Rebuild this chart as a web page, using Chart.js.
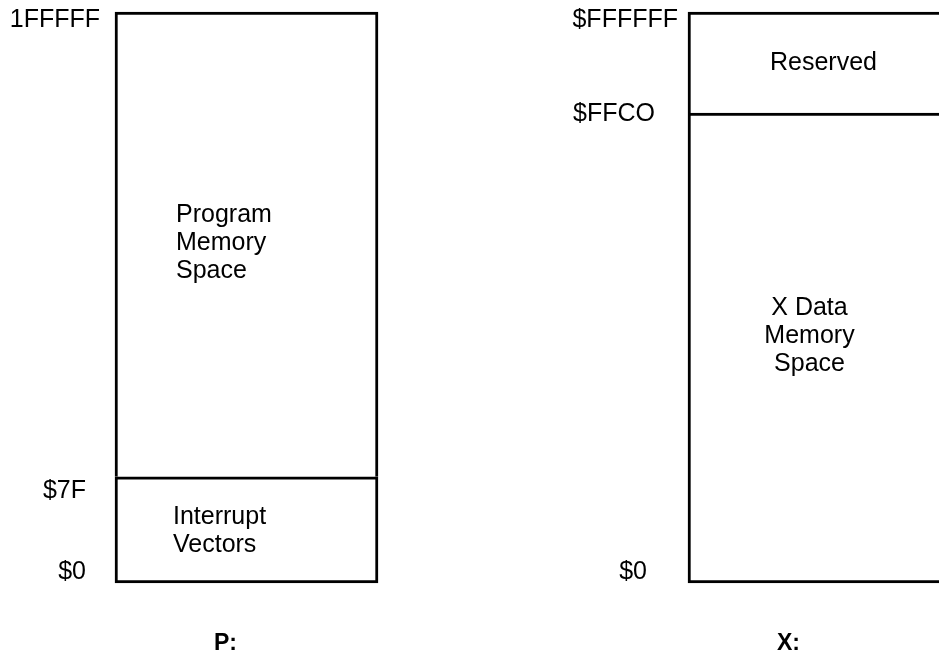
<!DOCTYPE html>
<html>
<head>
<meta charset="utf-8">
<script src="https://cdn.jsdelivr.net/npm/chart.js@4/dist/chart.umd.min.js"></script>
<style>
  html, body { margin: 0; padding: 0; background: #fff; overflow: hidden; }
  #wrap { width: 939px; height: 658px; }
</style>
</head>
<body>
<div id="wrap"><canvas id="memChart" width="939" height="658"></canvas></div>
<script>
// memory spaces (one column each)
var categories = ['P:', 'X:'];
// height of the split line in diagram units (bottom = 0, top = 100)
var splitLevel = [18.6, 82.3];
var lowerRegion = ['Interrupt\nVectors', 'X Data\nMemory\nSpace'];
var upperRegion = ['Program\nMemory\nSpace', 'Reserved'];
// address tick labels
var topAddr = ['1FFFFF', '$FFFFFF'];
var splitAddr = ['$7F', '$FFCO'];
var baseAddr = ['$0', '$0'];

var FONT = '"Liberation Sans", Arial, Helvetica, sans-serif';

// placement tweaks for the hand drawn labels (pixels)
var addrStyle = {
    top:   [{gap: 15, dy: 15}, {gap: 10, dy: 15}],
    split: [{gap: 29, dy: 21}, {gap: 33, dy: 8}],
    base:  [{gap: 29, dy: -4}, {gap: 41, dy: -4}]
};
var regionStyle = {
    lower: [{align: 'left', dx: 58, dy: -1}, {align: 'center', dx: -10, dy: -14}],
    upper: [{align: 'left', dx: 61, dy: -3.5}, {align: 'center', dx: 4, dy: -1.5}]
};
var catOffset = [-21, -31];

var lowerData = [];
var upperData = [];
for (let i = 0; i < categories.length; i++) {
    lowerData.push([0, splitLevel[i]]);
    upperData.push([splitLevel[i], 100]);
}

function drawBlock(c, text, x, cy, align) {
    let lines = text.split('\n');
    let lh = 28;
    let first = cy - (lines.length - 1) * lh / 2 + 9;
    c.textAlign = align;
    c.textBaseline = 'alphabetic';
    for (let k = 0; k < lines.length; k++) {
        c.fillText(lines[k], x, first + k * lh);
    }
}

var labelPlugin = {
    id: 'memLabels',
    afterDatasetsDraw: function(chart) {
        let c = chart.ctx;
        let yScale = chart.scales.y;
        let lowMeta = chart.getDatasetMeta(0);
        let upMeta = chart.getDatasetMeta(1);
        c.save();
        c.fillStyle = '#000';
        for (let i = 0; i < categories.length; i++) {
            let lo = lowMeta.data[i];
            let up = upMeta.data[i];
            let left = lo.x - lo.width / 2;

            // region names
            c.font = '25px ' + FONT;
            let rs = regionStyle.lower[i];
            let bx = rs.align == 'left' ? left + rs.dx : lo.x + rs.dx;
            drawBlock(c, lowerRegion[i], bx, (lo.y + lo.base) / 2 + rs.dy, rs.align);
            rs = regionStyle.upper[i];
            bx = rs.align == 'left' ? left + rs.dx : up.x + rs.dx;
            drawBlock(c, upperRegion[i], bx, (up.y + up.base) / 2 + rs.dy, rs.align);

            // addresses
            c.font = '25px ' + FONT;
            c.textAlign = 'right';
            c.textBaseline = 'alphabetic';
            let s = addrStyle.top[i];
            c.fillText(topAddr[i], left - s.gap, yScale.getPixelForValue(100) + s.dy);
            s = addrStyle.split[i];
            c.fillText(splitAddr[i], left - s.gap, yScale.getPixelForValue(splitLevel[i]) + s.dy);
            s = addrStyle.base[i];
            c.fillText(baseAddr[i], left - s.gap, yScale.getPixelForValue(0) + s.dy);

            // space name under the column
            c.font = 'bold 23px ' + FONT;
            c.textAlign = 'center';
            c.fillText(categories[i], lo.x + catOffset[i], 650);
        }
        c.restore();
    }
};

var ctx = document.getElementById('memChart').getContext('2d');
var myChart = new Chart(ctx, {
    type: 'bar',
    data: {
        labels: categories,
        datasets: [{
            label: 'lower',
            data: lowerData,
            backgroundColor: '#ffffff',
            borderColor: '#000000',
            borderWidth: 3,
            borderSkipped: false,
            grouped: false,
            barThickness: 263,
            clip: false
        }, {
            label: 'upper',
            data: upperData,
            backgroundColor: '#ffffff',
            borderColor: '#000000',
            borderWidth: {top: 3, left: 3, right: 3, bottom: 0},
            borderSkipped: false,
            grouped: false,
            barThickness: 263,
            clip: false
        }]
    },
    options: {
        responsive: false,
        animation: false,
        layout: {padding: {left: 246.5, right: 119.5, top: 12, bottom: 75}},
        plugins: {legend: {display: false}, tooltip: {enabled: false}},
        scales: {
            x: {display: false, offset: false},
            y: {display: false, min: 0, max: 100}
        }
    },
    plugins: [labelPlugin]
});
</script>
</body>
</html>
